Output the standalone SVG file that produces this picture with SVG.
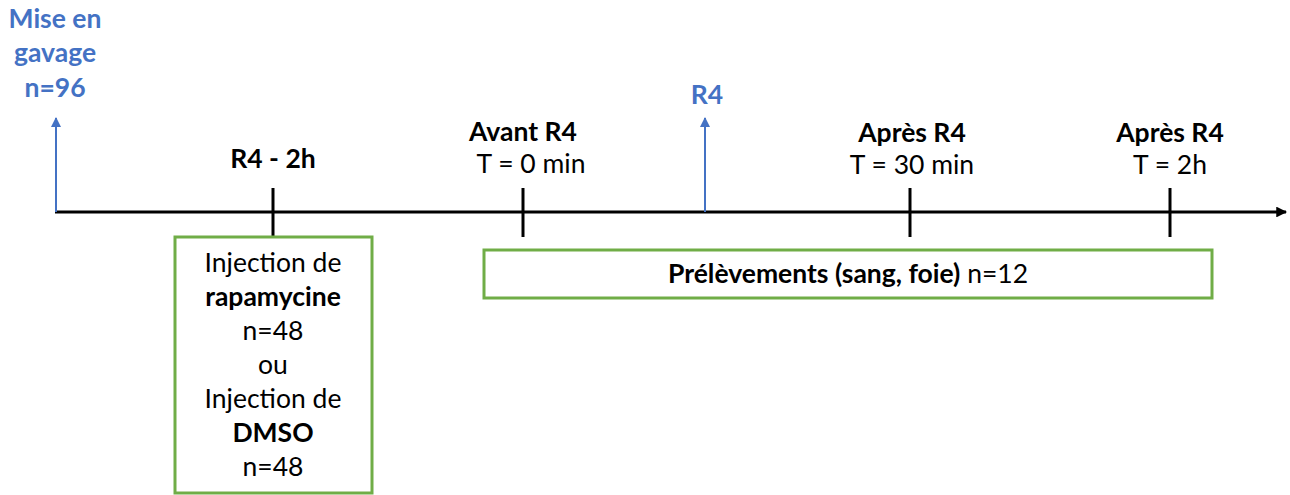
<svg xmlns="http://www.w3.org/2000/svg" width="1290" height="495" viewBox="0 0 1290 495">
<style>
text{font-family:Lato,"Open Sans","Liberation Sans",sans-serif;font-size:26.5px;fill:#000;text-anchor:middle}
.b{font-weight:bold}
.blue{fill:#4472C4;font-weight:bold}
.tick{stroke:#000;stroke-width:3}
.box{fill:#fff;stroke:#70AD47;stroke-width:3}
</style>
<defs>
<marker id="ab" viewBox="0 0 10 10" refX="9" refY="5" markerWidth="5" markerHeight="5" orient="auto"><path d="M0,0L10,5L0,10z" fill="#4472C4"/></marker>
<marker id="ak" viewBox="0 0 10 10" refX="9" refY="5" markerWidth="4.8" markerHeight="3.6" orient="auto"><path d="M0,0L10,5L0,10z" fill="#000"/></marker>
</defs>
<g id="connectors">
<line x1="55" y1="212" x2="1286" y2="212" stroke="#000" stroke-width="3" marker-end="url(#ak)"/>
<line x1="56" y1="212" x2="56" y2="118" stroke="#4472C4" stroke-width="2" marker-end="url(#ab)"/>
<line x1="705" y1="212" x2="705" y2="118" stroke="#4472C4" stroke-width="2" marker-end="url(#ab)"/>
<line class="tick" x1="273" y1="188" x2="273" y2="237"/>
<line class="tick" x1="523" y1="188" x2="523" y2="237"/>
<line class="tick" x1="910" y1="188" x2="910" y2="237"/>
<line class="tick" x1="1170" y1="188" x2="1170" y2="237"/>
</g>
<g id="gavage">
<text class="blue" x="55" y="28">Mise en</text>
<text class="blue" x="55" y="62">gavage</text>
<text class="blue" x="55" y="97">n=96</text>
</g>
<g id="r4-2h"><text class="b" x="273" y="168">R4 - 2h</text></g>
<g id="avant"><text class="b" x="523" y="141">Avant R4</text><text x="531" y="173">T = 0 min</text></g>
<g id="r4"><text class="blue" x="707" y="104">R4</text></g>
<g id="apres30"><text class="b" x="912" y="142">Après R4</text><text x="912" y="174">T = 30 min</text></g>
<g id="apres2h"><text class="b" x="1170" y="142">Après R4</text><text x="1170" y="174">T = 2h</text></g>
<g id="injection">
<rect class="box" x="175" y="237" width="197" height="256"/>
<text x="273" y="272">Injection de</text>
<text class="b" x="273" y="306">rapamycine</text>
<text x="273" y="340">n=48</text>
<text x="273" y="374">ou</text>
<text x="273" y="408">Injection de</text>
<text class="b" x="273" y="442">DMSO</text>
<text x="273" y="476">n=48</text>
</g>
<g id="prelevements">
<rect class="box" x="484" y="250" width="728" height="48"/>
<text x="848" y="283"><tspan class="b">Prélèvements (sang, foie)</tspan> n=12</text>
</g>
</svg>
